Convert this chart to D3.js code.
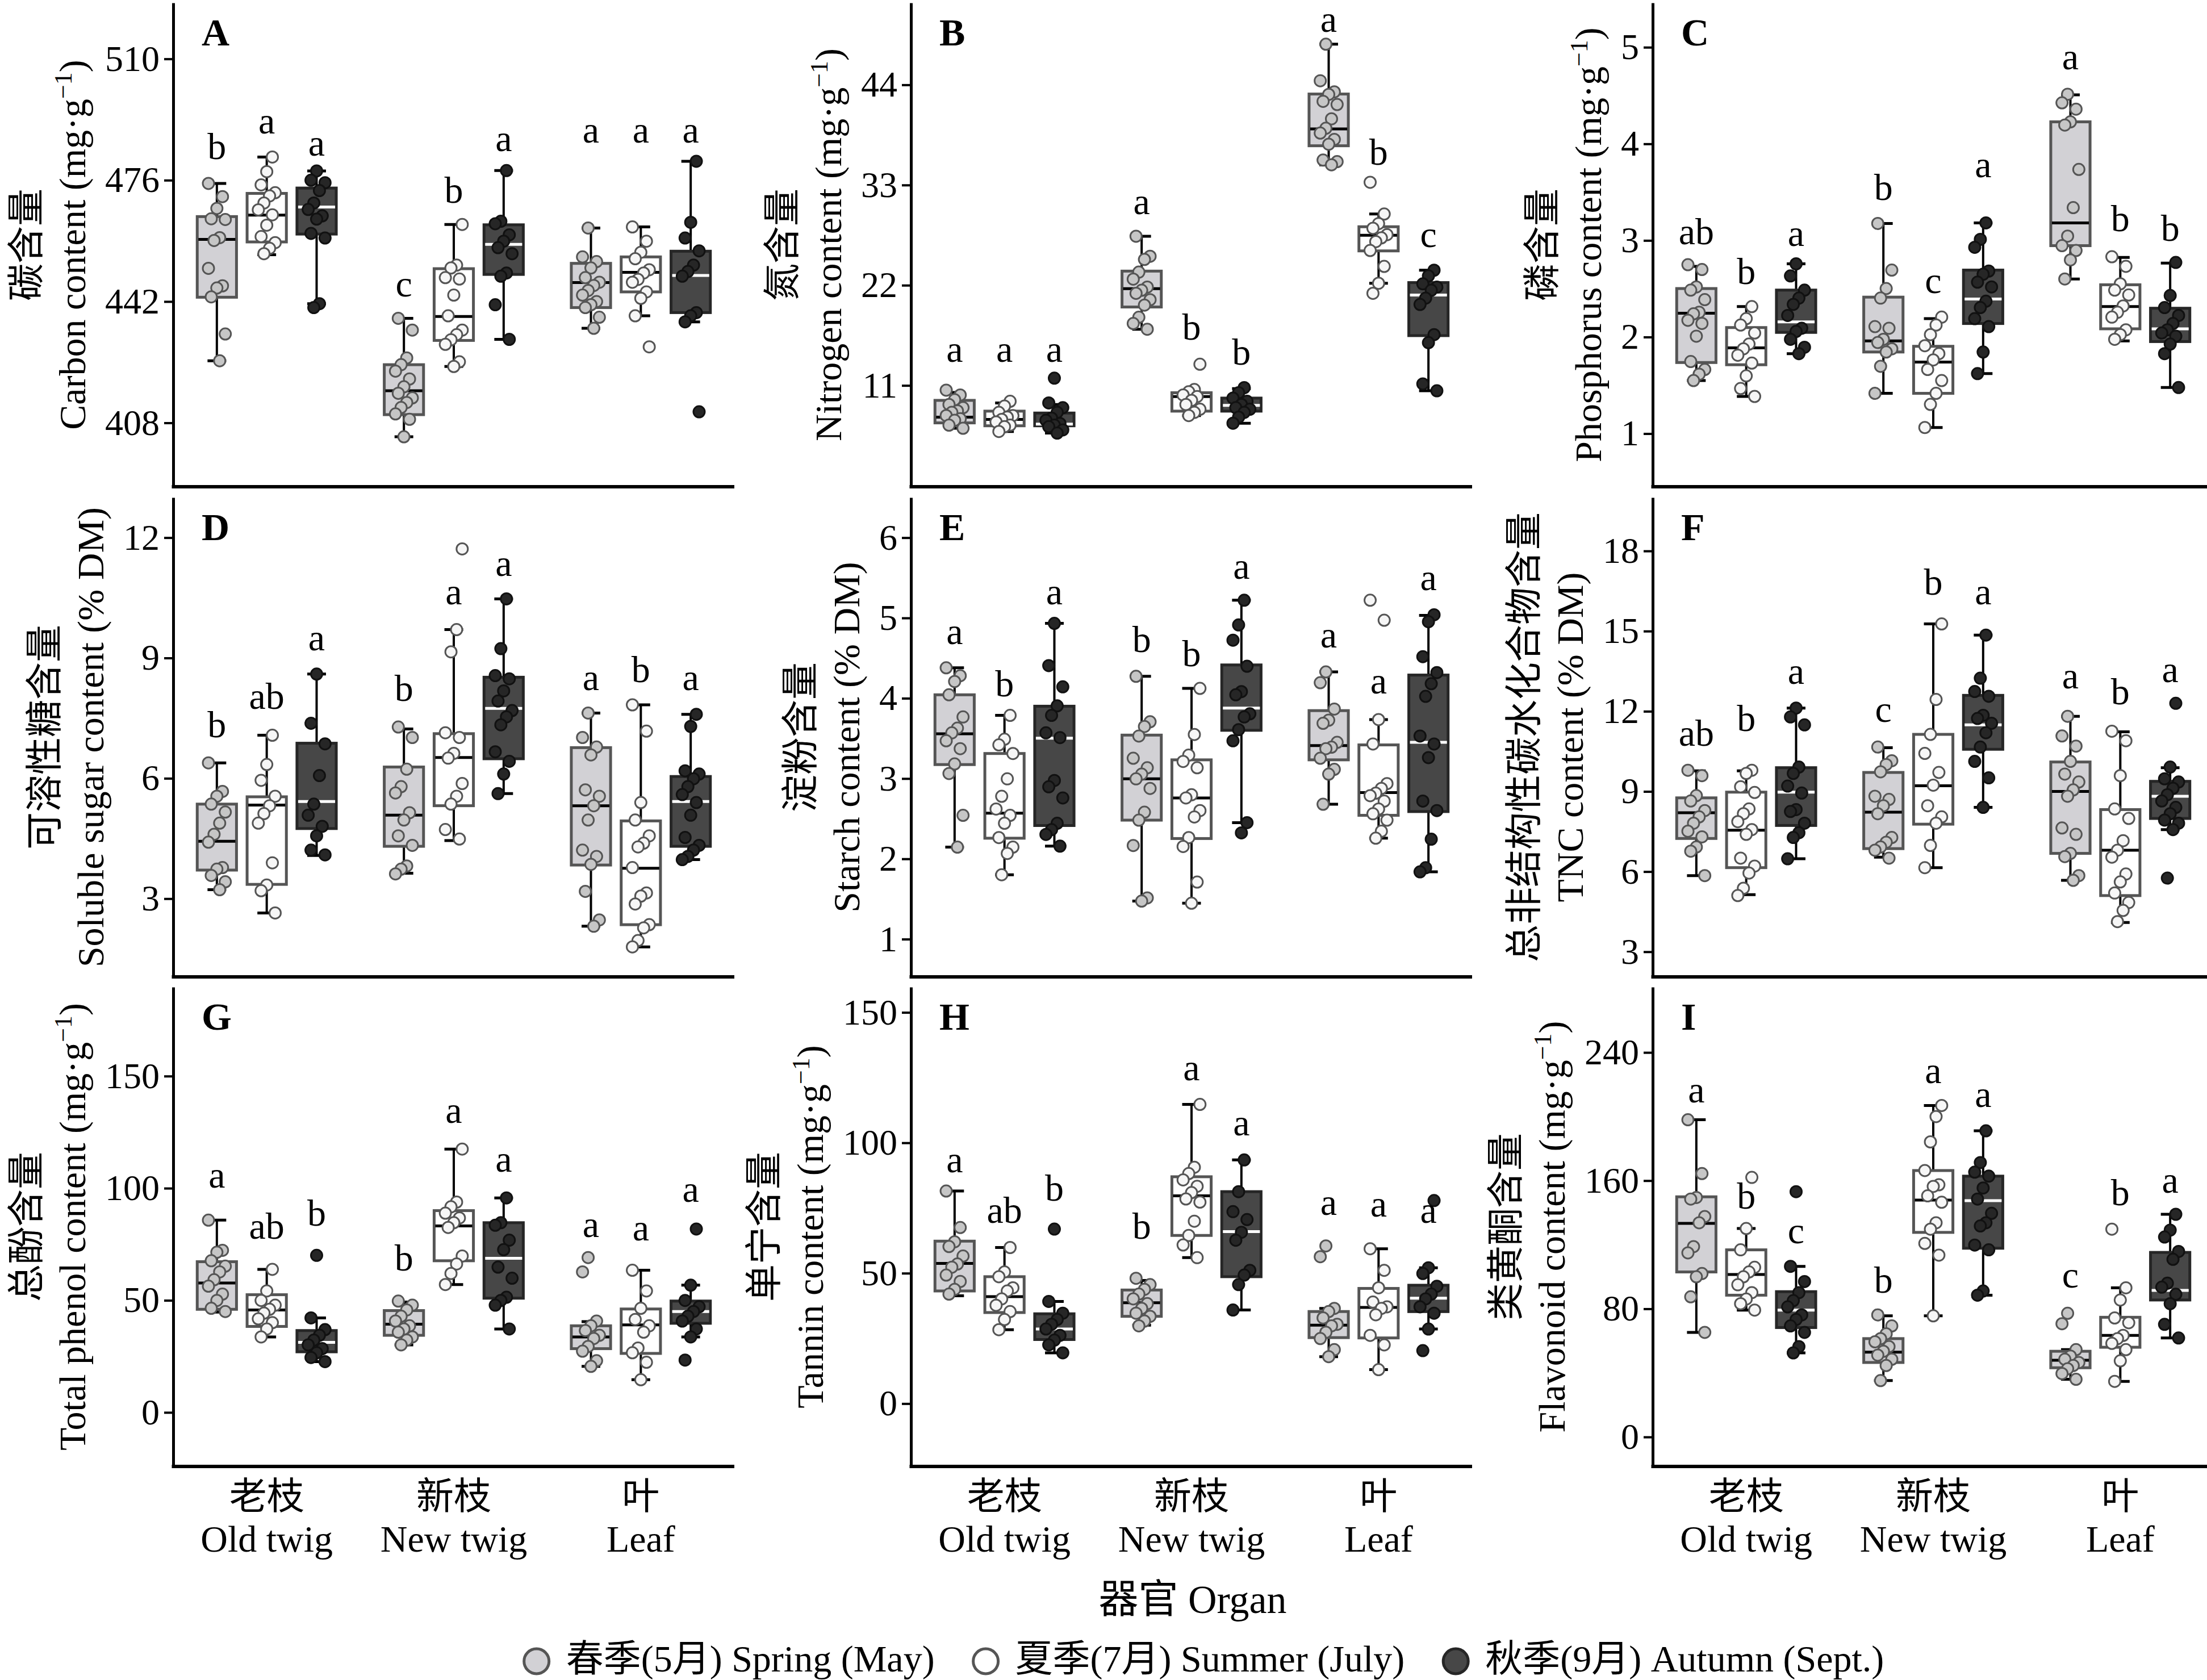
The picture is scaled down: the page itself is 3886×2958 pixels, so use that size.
<!DOCTYPE html>
<html>
<head>
<meta charset="utf-8">
<script src="https://cdn.jsdelivr.net/npm/d3@7"></script>
<style>
  body { margin: 0; background: #fff; }
  text { font-family: "Liberation Serif", "Noto Sans CJK SC", serif; }
</style>
</head>
<body>
<div id="fig"></div>
<script>
// categories
const organsZh = ['老枝', '新枝', '叶']
const organsEn = ['Old twig', 'New twig', 'Leaf']
const seasons = ['Spring', 'Summer', 'Autumn']
const seasonLabels = ['春季(5月) Spring (May)', '夏季(7月) Summer (July)', '秋季(9月) Autumn (Sept.)']

// box stats per box: [lower whisker, q1, median, q3, upper whisker]
// order: old twig (spring, summer, autumn), new twig (...), leaf (...)
const carbonTicks = [408, 442, 476, 510]
const carbonBox = [
  [425.4, 443.2, 459.4, 465.8, 475.1], [455.1, 458.7, 466.2, 472.3, 482.5], [441.4, 460.9, 468.5, 473.8, 478.6],
  [404.1, 410.3, 417.0, 424.3, 437.3], [423.8, 431.1, 437.8, 451.2, 463.6], [431.4, 449.6, 458.0, 463.5, 478.7],
  [434.5, 440.3, 447.3, 452.7, 462.6], [438.0, 444.7, 450.2, 454.5, 462.9], [436.3, 438.9, 449.3, 456.1, 481.3]
]
const carbonPts = [
  [475.1, 471.4, 468.1, 465.2, 465.0, 459.9, 459.1, 451.3, 446.4, 445.8, 443.3, 432.9, 425.4],
  [482.5, 478.4, 474.7, 472.5, 471.6, 469.6, 467.7, 466.3, 463.4, 460.2, 458.5, 456.9, 455.4],
  [478.6, 476.0, 475.3, 473.1, 469.6, 467.8, 466.0, 465.1, 461.1, 459.8, 441.4, 440.3],
  [437.3, 434.0, 426.2, 424.3, 422.5, 420.3, 418.1, 416.3, 415.0, 413.7, 412.3, 410.5, 409.0, 404.1],
  [463.6, 452.2, 451.4, 448.7, 448.3, 443.8, 438.0, 434.0, 432.7, 431.3, 430.0, 425.1, 423.8],
  [478.7, 464.5, 463.8, 460.7, 458.9, 457.1, 455.4, 450.0, 449.1, 441.1, 431.4],
  [462.6, 454.5, 453.2, 451.4, 448.7, 447.4, 446.5, 445.1, 443.8, 442.0, 441.1, 440.3, 437.6, 434.5],
  [462.9, 458.9, 455.8, 454.0, 450.9, 450.0, 448.2, 447.4, 444.7, 442.9, 438.0, 429.3],
  [481.3, 464.2, 459.8, 456.2, 452.2, 450.4, 449.1, 438.9, 438.0, 436.3, 411.1]
]
const carbonLetters = ['b', 'a', 'a', 'c', 'b', 'a', 'a', 'a', 'a']
const carbonLetterY = [482.0, 489.1, 482.9, 443.4, 469.6, 484.2, 486.5, 486.5, 486.5]

const nitrogenTicks = [11, 22, 33, 44]
const nitrogenBox = [
  [6.30, 6.89, 7.52, 9.36, 10.23], [5.95, 6.57, 7.27, 8.18, 9.08], [5.77, 6.57, 6.75, 7.97, 8.91],
  [17.17, 19.61, 21.63, 23.55, 27.38], [7.69, 8.18, 9.78, 10.20, 10.30], [6.85, 8.18, 8.81, 9.61, 10.65],
  [35.22, 37.31, 39.16, 42.99, 48.46], [22.22, 25.77, 27.48, 28.42, 29.82], [10.41, 16.47, 20.93, 22.29, 23.65]
]
const nitrogenPts = [
  [10.48, 9.95, 9.43, 8.91, 8.56, 8.21, 8.04, 7.69, 7.34, 7.17, 6.64, 6.30],
  [9.26, 8.74, 8.04, 7.69, 7.52, 7.27, 6.99, 6.64, 6.47, 5.95],
  [11.80, 9.08, 8.56, 8.04, 7.41, 7.17, 6.82, 6.64, 6.47, 6.12, 5.77],
  [27.38, 25.18, 24.83, 23.44, 22.67, 21.80, 21.45, 21.11, 20.41, 19.82, 18.49, 17.80, 17.17],
  [13.33, 10.55, 10.30, 9.95, 9.78, 9.36, 8.91, 8.39, 8.04, 7.69],
  [10.76, 10.20, 9.61, 9.26, 8.91, 8.56, 8.39, 8.04, 7.52, 6.85],
  [48.46, 44.45, 43.23, 42.95, 42.19, 41.84, 40.27, 39.23, 38.70, 38.01, 37.48, 35.74, 35.57, 35.22],
  [33.30, 29.82, 28.77, 28.25, 27.55, 27.20, 26.79, 25.81, 24.07, 22.22, 21.11],
  [23.65, 23.02, 22.15, 21.80, 21.45, 20.58, 19.89, 16.58, 15.70, 11.17, 10.41]
]
const nitrogenLetters = ['a', 'a', 'a', 'a', 'b', 'b', 'a', 'b', 'c']
const nitrogenLetterY = [13.61, 13.61, 13.61, 29.82, 16.05, 13.26, 49.8, 35.22, 26.16]

const phosphorusTicks = [1, 2, 3, 4, 5]
const phosphorusBox = [
  [1.549, 1.736, 2.246, 2.502, 2.732], [1.385, 1.713, 1.887, 2.098, 2.315], [1.828, 2.048, 2.157, 2.486, 2.758],
  [1.417, 1.845, 1.960, 2.413, 3.176], [1.063, 1.417, 1.740, 1.904, 2.190], [1.621, 2.140, 2.394, 2.693, 3.182],
  [2.601, 2.946, 3.182, 4.228, 4.507], [1.960, 2.085, 2.315, 2.541, 2.824], [1.477, 1.953, 2.085, 2.298, 2.765]
]
const phosphorusPts = [
  [2.749, 2.699, 2.519, 2.486, 2.387, 2.256, 2.240, 2.173, 2.141, 2.009, 1.746, 1.664, 1.615, 1.549],
  [2.315, 2.190, 2.124, 2.042, 1.927, 1.878, 1.812, 1.730, 1.598, 1.467, 1.385],
  [2.758, 2.633, 2.486, 2.403, 2.338, 2.223, 2.091, 2.058, 1.976, 1.894, 1.828],
  [3.176, 2.693, 2.502, 2.403, 2.108, 2.091, 1.976, 1.943, 1.878, 1.845, 1.697, 1.417],
  [2.206, 2.124, 2.025, 1.910, 1.828, 1.763, 1.664, 1.549, 1.417, 1.302, 1.063],
  [3.182, 3.011, 2.929, 2.683, 2.650, 2.568, 2.519, 2.371, 2.305, 2.190, 2.108, 1.845, 1.621],
  [4.514, 4.425, 4.359, 4.228, 4.195, 3.735, 3.340, 3.045, 2.946, 2.896, 2.798, 2.601],
  [2.831, 2.732, 2.551, 2.486, 2.436, 2.322, 2.256, 2.206, 2.075, 2.025, 1.976],
  [2.772, 2.430, 2.305, 2.223, 2.140, 2.075, 2.042, 2.009, 1.927, 1.828, 1.477]
]
const phosphorusLetters = ['ab', 'b', 'a', 'b', 'c', 'a', 'a', 'b', 'b']
const phosphorusLetterY = [2.962, 2.551, 2.946, 3.422, 2.453, 3.652, 4.770, 3.094, 2.995]

const sugarTicks = [3, 6, 9, 12]
const sugarBox = [
  [3.222, 3.712, 4.432, 5.357, 6.385], [2.644, 3.356, 5.333, 5.539, 7.073], [4.076, 4.748, 5.420, 6.875, 8.599],
  [3.633, 4.305, 5.080, 6.282, 7.231], [4.447, 5.317, 6.519, 7.113, 9.707], [5.618, 6.488, 7.745, 8.520, 10.474],
  [2.312, 3.838, 5.317, 6.765, 7.627], [1.798, 2.351, 3.759, 4.938, 7.832], [3.973, 4.305, 5.420, 6.045, 7.595]
]
const sugarPts = [
  [6.385, 5.673, 5.554, 5.357, 5.159, 4.882, 4.605, 4.408, 3.775, 3.736, 3.578, 3.420, 3.222],
  [7.073, 6.345, 5.950, 5.554, 5.317, 5.120, 4.882, 3.894, 3.341, 3.198, 2.644],
  [8.599, 7.373, 6.859, 6.069, 5.357, 5.080, 4.803, 4.566, 4.210, 4.091],
  [7.279, 7.018, 6.227, 5.792, 5.634, 5.143, 4.961, 4.566, 4.329, 3.815, 3.736, 3.617],
  [11.72, 9.707, 9.153, 7.136, 7.018, 6.622, 6.503, 5.871, 5.554, 5.357, 4.724, 4.487],
  [10.474, 9.232, 8.560, 8.480, 8.180, 7.927, 7.690, 7.532, 7.334, 6.662, 6.425, 6.108, 5.618],
  [7.627, 7.018, 6.780, 6.583, 5.713, 5.554, 5.317, 4.961, 4.210, 4.052, 3.854, 3.182, 2.470, 2.312],
  [7.832, 7.176, 5.396, 4.961, 4.566, 4.384, 4.289, 3.775, 3.143, 3.064, 2.866, 2.351, 2.272, 1.956, 1.798],
  [7.595, 7.294, 6.187, 6.108, 5.989, 5.792, 5.594, 5.396, 5.080, 4.526, 4.329, 4.210, 4.052, 3.973]
]
const sugarLetters = ['b', 'ab', 'a', 'b', 'a', 'a', 'a', 'b', 'a']
const sugarLetterY = [7.018, 7.729, 9.192, 7.927, 10.339, 11.051, 8.204, 8.402, 8.204]

const starchTicks = [1, 2, 3, 4, 5, 6]
const starchBox = [
  [2.146, 3.174, 3.557, 4.043, 4.379], [1.802, 2.257, 2.569, 3.312, 3.787], [2.158, 2.415, 3.502, 3.901, 4.933],
  [1.474, 2.482, 2.996, 3.541, 4.273], [1.447, 2.253, 2.759, 3.233, 4.123], [2.451, 3.601, 3.877, 4.415, 5.221],
  [2.680, 3.233, 3.411, 3.846, 4.328], [2.257, 2.542, 2.826, 3.419, 3.735], [1.838, 2.589, 3.451, 4.289, 5.032]
]
const starchPts = [
  [4.379, 4.281, 4.209, 4.043, 3.767, 3.628, 3.569, 3.470, 3.372, 3.182, 3.063, 2.542, 2.146],
  [3.787, 3.490, 3.419, 3.312, 2.996, 2.779, 2.621, 2.542, 2.443, 2.265, 2.146, 2.067, 1.802],
  [4.933, 4.407, 4.142, 3.905, 3.787, 3.569, 3.510, 2.976, 2.897, 2.759, 2.443, 2.364, 2.304, 2.158],
  [4.273, 3.707, 3.648, 3.530, 3.253, 3.134, 3.055, 2.996, 2.877, 2.581, 2.482, 2.166, 1.514, 1.474],
  [4.123, 3.549, 3.292, 3.213, 3.134, 2.798, 2.759, 2.601, 2.522, 2.265, 2.154, 1.711, 1.447],
  [5.221, 4.913, 4.723, 4.399, 4.083, 4.043, 3.806, 3.767, 3.609, 3.470, 2.451, 2.324],
  [4.328, 4.194, 3.866, 3.727, 3.688, 3.451, 3.391, 3.372, 3.253, 3.115, 3.055, 2.680],
  [5.221, 4.972, 3.735, 3.431, 2.937, 2.877, 2.818, 2.787, 2.719, 2.621, 2.561, 2.482, 2.344, 2.257],
  [5.040, 4.953, 4.518, 4.320, 4.181, 4.024, 3.530, 3.431, 3.261, 2.720, 2.601, 2.245, 1.889, 1.838]
]
const starchLetters = ['a', 'b', 'a', 'b', 'b', 'a', 'a', 'a', 'a']
const starchLetterY = [4.676, 4.024, 5.170, 4.577, 4.399, 5.486, 4.636, 4.063, 5.348]

const tncTicks = [3, 6, 9, 12, 15, 18]
const tncBox = [
  [5.851, 7.240, 8.202, 8.760, 9.770], [5.138, 6.148, 7.549, 8.974, 9.770], [6.480, 7.727, 8.974, 9.889, 12.121],
  [6.540, 6.860, 8.226, 9.711, 10.637], [6.148, 7.775, 9.212, 11.136, 15.269], [8.404, 10.578, 11.492, 12.596, 14.853],
  [5.673, 6.682, 8.998, 10.103, 11.813], [4.093, 5.103, 6.801, 8.321, 11.231], [7.573, 7.989, 8.820, 9.378, 9.889]
]
const tncPts = [
  [9.794, 9.592, 8.844, 8.642, 8.285, 8.048, 7.810, 7.513, 7.300, 6.920, 6.765, 5.851],
  [9.794, 9.675, 9.176, 8.962, 8.345, 8.167, 7.870, 7.573, 7.395, 6.504, 6.207, 5.946, 5.376, 5.103],
  [12.121, 11.789, 11.492, 9.913, 9.675, 9.200, 8.939, 8.321, 8.250, 7.810, 7.454, 7.276, 6.480],
  [10.661, 10.150, 10.007, 9.734, 8.820, 8.701, 8.464, 8.167, 7.276, 7.098, 6.920, 6.801, 6.504],
  [15.269, 12.442, 11.136, 10.423, 9.711, 9.235, 8.464, 8.048, 7.810, 6.979, 6.148],
  [14.853, 13.238, 12.739, 12.561, 11.849, 11.730, 11.552, 11.195, 10.661, 10.126, 9.509, 8.404],
  [11.813, 11.076, 10.696, 10.126, 9.651, 9.354, 9.057, 8.820, 7.632, 7.395, 6.682, 6.563, 5.851, 5.673],
  [11.254, 10.898, 9.592, 8.345, 7.989, 7.157, 6.801, 6.540, 5.910, 5.613, 5.198, 4.842, 4.545, 4.129],
  [12.299, 9.913, 9.473, 9.354, 9.117, 8.880, 8.642, 8.404, 8.167, 7.929, 7.810, 7.573, 5.756]
]
const tncLetters = ['ab', 'b', 'a', 'c', 'b', 'a', 'a', 'b', 'a']
const tncLetterY = [10.720, 11.254, 13.036, 11.611, 16.361, 16.005, 12.858, 12.264, 13.095]

const phenolTicks = [0, 50, 100, 150]
const phenolBox = [
  [44.72, 45.99, 57.74, 67.22, 85.75], [33.68, 38.35, 45.71, 52.50, 63.82], [22.64, 27.03, 31.27, 36.51, 42.17],
  [30.14, 34.39, 39.34, 45.42, 49.25], [57.03, 67.64, 83.21, 90.00, 117.45], [37.22, 50.94, 68.77, 84.62, 95.66],
  [20.52, 28.44, 33.68, 38.63, 40.47], [14.58, 26.32, 39.06, 46.13, 63.40], [33.68, 39.76, 45.00, 49.67, 56.75]
]
const phenolPts = [
  [85.75, 72.31, 71.46, 67.64, 65.24, 62.69, 59.15, 56.32, 52.78, 49.95, 46.42, 45.00],
  [63.82, 54.20, 49.95, 47.83, 45.99, 44.29, 41.75, 40.05, 37.22, 33.68],
  [70.05, 42.17, 36.93, 34.39, 32.26, 30.14, 28.44, 26.60, 24.48, 22.64],
  [49.67, 47.83, 45.71, 42.88, 40.75, 38.63, 37.22, 35.80, 33.68, 32.26, 30.14],
  [117.45, 93.82, 91.70, 88.87, 86.74, 84.62, 82.50, 69.76, 66.23, 61.98, 57.03],
  [95.66, 84.62, 83.49, 76.84, 72.59, 64.81, 59.86, 51.37, 49.95, 47.83, 37.22],
  [69.06, 62.69, 40.75, 38.63, 36.51, 34.39, 32.97, 29.43, 27.31, 23.07, 20.52],
  [63.40, 54.20, 46.42, 41.46, 38.63, 35.80, 28.73, 26.60, 22.36, 14.58],
  [81.79, 56.75, 49.95, 47.12, 45.00, 42.88, 40.75, 37.22, 33.68, 23.35]
]
const phenolLetters = ['a', 'ab', 'b', 'b', 'a', 'a', 'a', 'a', 'a']
const phenolLetterY = [100.19, 77.55, 83.21, 63.40, 129.20, 107.26, 78.25, 76.84, 93.82]

const tanninTicks = [0, 50, 100, 150]
const tanninBox = [
  [41.36, 43.19, 53.77, 62.29, 81.51], [28.35, 34.92, 41.00, 48.66, 59.85], [19.46, 24.57, 28.59, 34.43, 39.17],
  [30.05, 33.46, 38.69, 43.55, 47.20], [55.96, 64.48, 79.68, 86.98, 114.72], [35.89, 48.66, 65.94, 81.27, 93.43],
  [18.00, 25.30, 30.05, 35.30, 36.50], [13.02, 25.18, 36.86, 44.16, 59.37], [28.59, 35.28, 40.39, 45.38, 52.07]
]
const tanninPts = [
  [81.51, 67.52, 62.04, 60.22, 56.57, 53.53, 52.31, 49.27, 46.84, 43.80, 41.97],
  [59.85, 50.49, 48.66, 44.40, 43.19, 40.15, 37.71, 35.28, 32.24, 28.35],
  [66.91, 39.17, 34.67, 32.24, 30.41, 28.59, 26.16, 24.33, 22.51, 19.46],
  [48.05, 45.62, 43.80, 41.97, 40.15, 38.32, 36.50, 34.67, 33.46, 31.63, 29.81],
  [114.72, 90.63, 88.20, 85.77, 83.33, 80.90, 78.47, 77.25, 69.95, 64.48, 60.83, 55.96],
  [93.43, 81.27, 73.60, 70.56, 65.69, 62.65, 51.10, 49.27, 45.62, 35.89],
  [60.46, 56.33, 36.50, 35.28, 32.85, 30.41, 29.81, 27.37, 24.94, 20.68, 18.00],
  [59.37, 51.10, 44.40, 38.93, 37.10, 36.50, 34.06, 26.16, 22.51, 13.02],
  [77.86, 52.07, 49.88, 45.01, 41.97, 40.15, 37.10, 34.67, 28.59, 20.32]
]
const tanninLetters = ['a', 'ab', 'b', 'b', 'a', 'a', 'a', 'a', 'a']
const tanninLetterY = [88.81, 69.34, 77.86, 63.26, 124.09, 102.80, 72.38, 71.78, 69.34]

const flavonoidTicks = [0, 80, 160, 240]
const flavonoidBox = [
  [65.3, 103.0, 133.3, 149.9, 198.0], [79.2, 88.5, 101.4, 116.8, 130.1], [52.5, 68.3, 79.2, 90.7, 106.5],
  [35.2, 46.5, 52.9, 61.4, 75.6], [75.6, 127.7, 147.9, 166.3, 206.9], [88.5, 117.8, 147.5, 162.8, 191.1],
  [36.0, 43.2, 47.9, 53.5, 54.5], [34.7, 56.0, 63.4, 74.7, 93.1], [61.8, 85.5, 91.5, 115.2, 139.0]
]
const flavonoidPts = [
  [198.0, 164.4, 149.5, 148.5, 137.6, 133.7, 118.8, 114.9, 102.0, 100.0, 87.5, 65.3],
  [162.0, 130.1, 116.8, 105.9, 103.0, 100.0, 95.0, 90.1, 86.1, 83.2, 79.2],
  [153.1, 106.5, 97.0, 90.1, 85.1, 81.2, 76.2, 73.3, 69.3, 65.3, 56.4, 52.5],
  [76.2, 69.3, 64.4, 61.4, 59.4, 56.4, 53.5, 51.1, 48.5, 44.6, 35.2],
  [206.9, 200.0, 184.2, 166.3, 157.4, 156.4, 150.5, 146.5, 133.7, 129.7, 120.8, 113.5, 75.6],
  [191.1, 171.3, 165.3, 162.8, 155.4, 148.5, 139.6, 133.7, 131.7, 119.8, 116.8, 91.1, 88.5],
  [77.2, 70.7, 54.5, 50.5, 48.5, 46.5, 44.6, 42.6, 39.6, 36.0],
  [129.7, 93.1, 85.5, 74.3, 71.3, 63.4, 61.4, 58.4, 54.5, 47.5, 34.7],
  [139.0, 129.1, 124.8, 115.8, 110.9, 96.0, 93.5, 89.1, 83.2, 70.3, 61.8]
]
const flavonoidLetters = ['a', 'b', 'c', 'b', 'a', 'a', 'c', 'b', 'a']
const flavonoidLetterY = [208.9, 142.6, 120.8, 90.1, 220.8, 205.9, 93.1, 144.6, 152.5]

const panels = [
  { id: 'A', zh: '碳含量', en: 'Carbon content', unit: 'mg', domain: [390.1, 525.7], ticks: carbonTicks, box: carbonBox, pts: carbonPts, letters: carbonLetters, letterY: carbonLetterY },
  { id: 'B', zh: '氮含量', en: 'Nitrogen content', unit: 'mg', domain: [-0.12, 53.0], ticks: nitrogenTicks, box: nitrogenBox, pts: nitrogenPts, letters: nitrogenLetters, letterY: nitrogenLetterY },
  { id: 'C', zh: '磷含量', en: 'Phosphorus content', unit: 'mg', domain: [0.45, 5.46], ticks: phosphorusTicks, box: phosphorusBox, pts: phosphorusPts, letters: phosphorusLetters, letterY: phosphorusLetterY },
  { id: 'D', zh: '可溶性糖含量', en: 'Soluble sugar content', unit: 'dm', domain: [1.05, 13.0], ticks: sugarTicks, box: sugarBox, pts: sugarPts, letters: sugarLetters, letterY: sugarLetterY },
  { id: 'E', zh: '淀粉含量', en: 'Starch content', unit: 'dm', domain: [0.53, 6.5], ticks: starchTicks, box: starchBox, pts: starchPts, letters: starchLetters, letterY: starchLetterY },
  { id: 'F', zh: '总非结构性碳水化合物含量', en: 'TNC content', unit: 'dm', domain: [2.06, 20.0], ticks: tncTicks, box: tncBox, pts: tncPts, letters: tncLetters, letterY: tncLetterY },
  { id: 'G', zh: '总酚含量', en: 'Total phenol content', unit: 'mg', domain: [-24.1, 189.7], ticks: phenolTicks, box: phenolBox, pts: phenolPts, letters: phenolLetters, letterY: phenolLetterY },
  { id: 'H', zh: '单宁含量', en: 'Tannin content', unit: 'mg', domain: [-24.1, 159.7], ticks: tanninTicks, box: tanninBox, pts: tanninPts, letters: tanninLetters, letterY: tanninLetterY },
  { id: 'I', zh: '类黄酮含量', en: 'Flavonoid content', unit: 'mg', domain: [-18.4, 280.8], ticks: flavonoidTicks, box: flavonoidBox, pts: flavonoidPts, letters: flavonoidLetters, letterY: flavonoidLetterY }
]

// layout (px)
const width = 3886, height = 2958
const panelW = 988
const colX = [305, 1604, 2910]
const rowTop = [5, 876, 1738], rowBottom = [857, 1720, 2582]
const fontSize = 66

const style = {
  boxFill: ['#d2d1d5', '#ffffff', '#474747'],
  boxStroke: ['#555555', '#555555', '#262626'],
  median: ['#000000', '#000000', '#ffffff'],
  ptFill: ['#c6c6c6', '#f6f6f6', '#262626'],
  ptStroke: ['#555555', '#555555', '#111111']
}

const svg = d3.select('#fig')
  .append('svg')
  .attr('width', width)
  .attr('height', height)
  .style('background', '#fff')

function drawPanel(p, i) {
  const col = i % 3, row = Math.floor(i / 3)
  const h = rowBottom[row] - rowTop[row]
  const g = svg.append('g').attr('transform', `translate(${colX[col]},${rowTop[row]})`)

  let x = d3.scaleBand().domain(organsEn).range([0, panelW])
  let step = x.bandwidth()
  let dodge = d3.scaleBand().domain(seasons).range([-0.4 * step, 0.4 * step])
  let y = d3.scaleLinear().domain(p.domain).range([h, 0])

  let boxW = 0.21 * step, capW = 0.1 * step
  let cx = k => x(organsEn[Math.floor(k / 3)]) + step / 2 + dodge(seasons[k % 3]) + dodge.bandwidth() / 2
  // small deterministic horizontal spread for the points
  let jit = j => (((j * 5) % 7) - 3) / 3 * 0.045 * step

  let boxes = p.box.map((b, k) => ({ k: k, s: k % 3, lo: b[0], q1: b[1], med: b[2], q3: b[3], hi: b[4] }))

  // whiskers
  g.selectAll('.whisker')
    .data(boxes).enter()
    .append('line')
    .attr('x1', d => cx(d.k)).attr('x2', d => cx(d.k))
    .attr('y1', d => y(d.lo)).attr('y2', d => y(d.hi))
    .attr('stroke', '#000').attr('stroke-width', 4)
  g.selectAll('.cap')
    .data(boxes.flatMap(d => [{ k: d.k, v: d.lo }, { k: d.k, v: d.hi }])).enter()
    .append('line')
    .attr('x1', d => cx(d.k) - capW / 2).attr('x2', d => cx(d.k) + capW / 2)
    .attr('y1', d => y(d.v)).attr('y2', d => y(d.v))
    .attr('stroke', '#000').attr('stroke-width', 5)

  // boxes
  g.selectAll('.box')
    .data(boxes).enter()
    .append('rect')
    .attr('x', d => cx(d.k) - boxW / 2)
    .attr('y', d => y(d.q3))
    .attr('width', boxW)
    .attr('height', d => y(d.q1) - y(d.q3))
    .attr('fill', d => style.boxFill[d.s])
    .attr('stroke', d => style.boxStroke[d.s])
    .attr('stroke-width', 5)
  g.selectAll('.median')
    .data(boxes).enter()
    .append('line')
    .attr('x1', d => cx(d.k) - boxW / 2 + 2).attr('x2', d => cx(d.k) + boxW / 2 - 2)
    .attr('y1', d => y(d.med)).attr('y2', d => y(d.med))
    .attr('stroke', d => style.median[d.s]).attr('stroke-width', 5)

  // points
  let pts = p.pts.flatMap((vals, k) => vals.map((v, j) => ({ k: k, s: k % 3, v: v, j: j })))
  g.selectAll('.pt')
    .data(pts).enter()
    .append('circle')
    .attr('cx', d => cx(d.k) + jit(d.j + d.k))
    .attr('cy', d => y(d.v))
    .attr('r', 10)
    .attr('fill', d => style.ptFill[d.s])
    .attr('stroke', d => style.ptStroke[d.s])
    .attr('stroke-width', 3)

  // significance letters
  g.selectAll('.sig')
    .data(boxes).enter()
    .append('text')
    .attr('x', d => cx(d.k))
    .attr('y', d => y(p.letterY[d.k]))
    .attr('text-anchor', 'middle')
    .attr('font-size', fontSize)
    .text(d => p.letters[d.k])

  // axes
  let yAxis = g.append('g')
    .call(d3.axisLeft(y).tickValues(p.ticks).tickFormat(d => d).tickSize(16).tickSizeOuter(0).tickPadding(8))
    .attr('font-size', 64)
  yAxis.select('.domain').attr('stroke-width', 5)
  yAxis.selectAll('.tick line').attr('stroke-width', 4)

  g.append('line')
    .attr('x1', -2.5).attr('x2', panelW)
    .attr('y1', h).attr('y2', h)
    .attr('stroke', '#000').attr('stroke-width', 6)

  // y titles
  let left = yAxis.node().getBBox().x
  let en = g.append('text')
    .attr('transform', `translate(${left - 58},${h / 2}) rotate(-90)`)
    .attr('y', 23)
    .attr('text-anchor', 'middle')
    .attr('font-size', fontSize)
  if (p.unit === 'mg') {
    en.append('tspan').text(p.en + ' (mg·g')
    en.append('tspan').attr('dy', -24).attr('font-size', 44).text('−1')
    en.append('tspan').attr('dy', 24).text(')')
  } else {
    en.text(p.en + ' (% DM)')
  }
  g.append('text')
    .attr('transform', `translate(${left - 140},${h / 2}) rotate(-90)`)
    .attr('y', 24)
    .attr('text-anchor', 'middle')
    .attr('font-size', fontSize)
    .text(p.zh)

  // panel letter
  g.append('text')
    .attr('x', 50).attr('y', 75)
    .attr('font-size', 68)
    .attr('font-weight', 'bold')
    .text(p.id)

  // organ labels under the bottom row
  if (row === 2) {
    organsEn.forEach((o, j) => {
      g.append('text')
        .attr('x', x(o) + step / 2).attr('y', h + 75)
        .attr('text-anchor', 'middle').attr('font-size', fontSize)
        .text(organsZh[j])
      g.append('text')
        .attr('x', x(o) + step / 2).attr('y', h + 150)
        .attr('text-anchor', 'middle').attr('font-size', fontSize)
        .text(o)
    })
  }
}

panels.forEach(drawPanel)

// x title
svg.append('text')
  .attr('x', 2100).attr('y', 2840)
  .attr('text-anchor', 'middle')
  .attr('font-size', 70)
  .text('器官 Organ')

// legend
let legend = svg.append('g').attr('transform', 'translate(0,2925)')
let items = seasonLabels.map((label, s) => {
  let item = legend.append('g')
  item.append('circle')
    .attr('r', 22)
    .attr('fill', style.boxFill[s])
    .attr('stroke', style.boxStroke[s])
    .attr('stroke-width', 5)
  let t = item.append('text')
    .attr('x', 52).attr('y', 18)
    .attr('font-size', fontSize)
    .text(label)
  return { item: item, w: 52 + t.node().getComputedTextLength() }
})
let gap = 90
let total = d3.sum(items, d => d.w) + gap * (items.length - 1) + 24
let pos = 2119 - total / 2 + 24
items.forEach(d => {
  d.item.attr('transform', `translate(${pos},0)`)
  pos += d.w + gap
})
</script>
</body>
</html>
